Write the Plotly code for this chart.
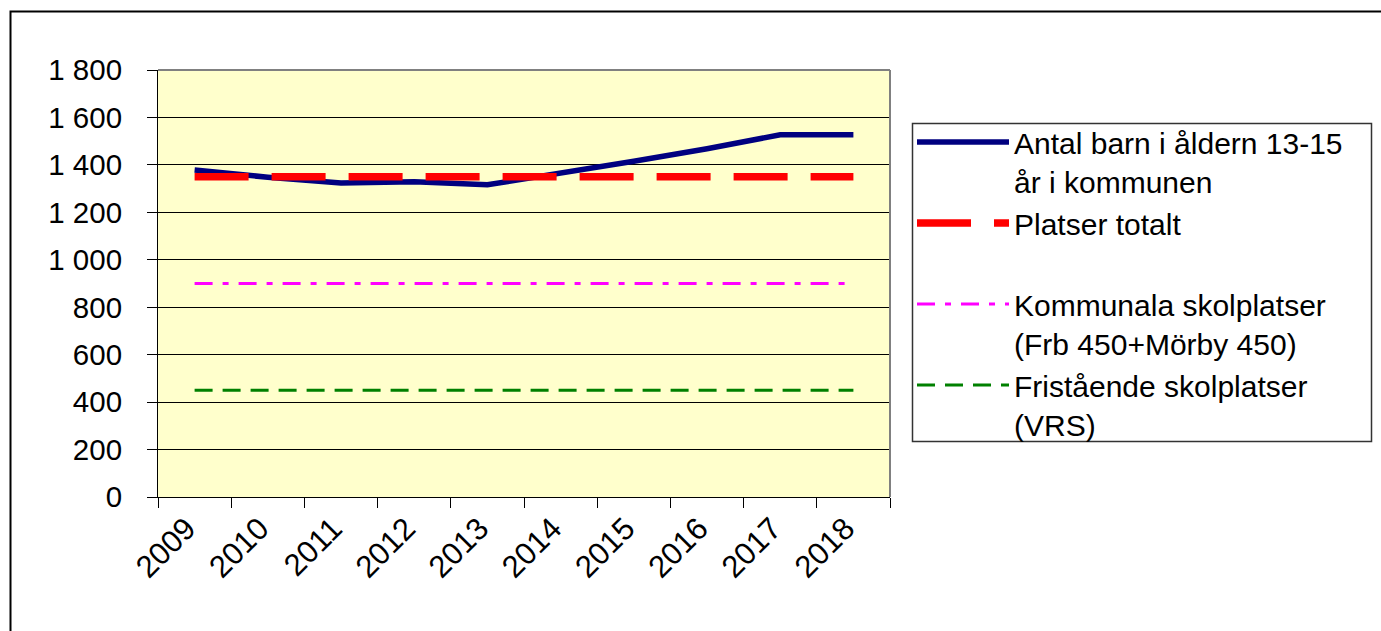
import plotly.graph_objects as go

# Categories and series
years = ["2009", "2010", "2011", "2012", "2013", "2014", "2015", "2016", "2017", "2018"]
antal_barn = [1378, 1348, 1324, 1329, 1316, 1364, 1415, 1468, 1527, 1527]
platser_totalt = [1350, 1350, 1350, 1350, 1350, 1350, 1350, 1350, 1350, 1350]
kommunala = [900, 900, 900, 900, 900, 900, 900, 900, 900, 900]
fristaende = [450, 450, 450, 450, 450, 450, 450, 450, 450, 450]

names = [
    "Antal barn i åldern 13-15<br>år i kommunen",
    "Platser totalt<br> ",
    "Kommunala skolplatser<br>(Frb 450+Mörby 450)",
    "Fristående skolplatser<br>(VRS)",
]
y_ticks = [0, 200, 400, 600, 800, 1000, 1200, 1400, 1600, 1800]

FONT = "Liberation Sans, Arial, sans-serif"

fig = go.Figure()
fig.add_trace(go.Scatter(
    x=years, y=antal_barn, name=names[0], mode="lines",
    line=dict(color="#000080", width=5.5), legendgroup="a",
))
fig.add_trace(go.Scatter(
    x=years, y=platser_totalt, name=names[1], mode="lines",
    line=dict(color="#FF0000", width=7.5, dash="54px,23px"), legendgroup="b",
))
fig.add_trace(go.Scatter(
    x=years, y=kommunala, name=names[2], mode="lines",
    line=dict(color="#FF00FF", width=3, dash="18px,10px,6px,10px"), legendgroup="c",
))
fig.add_trace(go.Scatter(
    x=years, y=fristaende, name=names[3], mode="lines",
    line=dict(color="#008000", width=3, dash="18px,10px"), legendgroup="d",
))

W, H = 1381, 631
L, R, T, B = 158, 890, 70, 497
pw, ph = R - L, B - T


def px_x(p):
    return (p - L) / pw


def px_y(p):
    return (B - p) / ph


fig.update_layout(
    width=W, height=H,
    margin=dict(l=L, r=W - R, t=T, b=H - B, autoexpand=False),
    paper_bgcolor="white",
    plot_bgcolor="#FFFFCC",
    separators=". ",
    font=dict(family=FONT, size=29, color="black"),
    showlegend=True,
    legend=dict(
        x=px_x(912), y=px_y(116), xanchor="left", yanchor="top",
        bgcolor="rgba(0,0,0,0)", borderwidth=0,
        font=dict(family=FONT, size=30, color="black"),
        itemwidth=92, valign="top", tracegroupgap=0,
        traceorder="normal",
    ),
    xaxis=dict(
        type="category", tickson="boundaries",
        ticks="outside", ticklen=10, tickcolor="black", tickwidth=1,
        tickangle=-45, showgrid=False,
        showline=True, linecolor="black", linewidth=1,
        tickfont=dict(family=FONT, size=31, color="black"),
        ticklabelshift=-8,
        range=[-0.5, 9.5],
    ),
    yaxis=dict(
        range=[0, 1800], tickvals=y_ticks, tickformat=",d",
        ticks="outside", ticklen=10, tickcolor="black", tickwidth=1,
        showgrid=True, gridcolor="black", gridwidth=1,
        showline=True, linecolor="black", linewidth=1,
        zeroline=False,
        tickfont=dict(family=FONT, size=29.5, color="black"),
        ticklabelstandoff=19,
    ),
    shapes=[
        # gray plot-area frame on the top and right edges
        dict(type="line", xref="paper", yref="paper", x0=0, x1=1, y0=1, y1=1,
             line=dict(color="#808080", width=2)),
        dict(type="line", xref="paper", yref="paper", x0=1, x1=1, y0=0, y1=1,
             line=dict(color="#808080", width=2)),
        # legend frame
        dict(type="rect", xref="paper", yref="paper", layer="below",
             x0=px_x(912.5), x1=px_x(1371.5), y0=px_y(441.5), y1=px_y(123.5),
             line=dict(color="#333333", width=1.5), fillcolor="white"),
        # outer chart frame
        dict(type="rect", xref="paper", yref="paper",
             x0=px_x(10.5), x1=px_x(1400), y0=px_y(650), y1=px_y(11.5),
             line=dict(color="black", width=2), fillcolor="rgba(0,0,0,0)"),
    ],
)

fig.write_html("out.html")
